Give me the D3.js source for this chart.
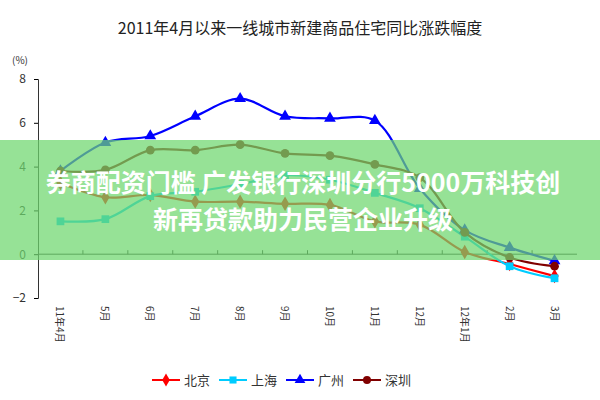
<!DOCTYPE html>
<html><head><meta charset="utf-8">
<script src="https://cdn.jsdelivr.net/npm/d3@7/dist/d3.min.js"></script>
<style>body{margin:0;background:#fff}text{font-family:"Noto Sans CJK SC","Liberation Sans",sans-serif}</style>
</head><body><div id="chart"></div>
<script>
// months and the four city series (%)
var months = ["11年4月","5月","6月","7月","8月","9月","10月","11月","12月","12年1月","2月","3月"];
var beijing   = [3.25, 2.6, 2.7, 2.4, 2.4, 2.3, 2.25, 1.5, 1.35, 0.1, -0.45, -1.0];
var shanghai  = [1.5, 1.6, 2.65, 2.85, 3.2, 3.6, 3.4, 2.8, 2.1, 0.8, -0.55, -1.1];
var guangzhou = [3.8, 5.1, 5.4, 6.3, 7.1, 6.3, 6.2, 6.1, 3.0, 1.1, 0.3, -0.3];
var shenzhen  = [3.8, 3.85, 4.75, 4.75, 5.0, 4.6, 4.5, 4.1, 3.5, 1.0, -0.15, -0.55];
var yTicks = [-2, 0, 2, 4, 6, 8];

var series = [
  {name: "北京", vals: beijing, color: "#ff0000", sym: d3.symbolDiamond},
  {name: "上海", vals: shanghai, color: "#00ccff", sym: d3.symbolSquare},
  {name: "广州", vals: guangzhou, color: "#0000ff", sym: d3.symbolTriangle},
  {name: "深圳", vals: shenzhen, color: "#800000", sym: d3.symbolCircle}
];

var svg = d3.select("#chart").append("svg").attr("width", 600).attr("height", 400);

svg.append("text").attr("x", 300).attr("y", 34).attr("text-anchor", "middle")
  .attr("font-size", 16).attr("fill", "#222").text("2011年4月以来一线城市新建商品住宅同比涨跌幅度");

var x = d3.scaleBand().domain(months).range([38, 577]);
var y = d3.scaleLinear().domain([-2, 8]).range([298, 79]);

// y axis
var ya = svg.append("g").attr("transform", "translate(38,0)")
  .call(d3.axisLeft(y).tickValues(yTicks).tickSize(4));
ya.select(".domain").attr("stroke", "#333");
ya.selectAll("text").attr("font-size", 12).attr("fill", "#333").attr("x", -12);
svg.append("text").attr("x", 12).attr("y", 64).attr("font-size", 10).attr("fill", "#333").text("(%)");

// x axis at zero, ticks between categories
var xg = svg.append("g").attr("transform", "translate(0," + y(0) + ")");
xg.append("line").attr("x1", 38).attr("x2", 577).attr("stroke", "#333");
xg.selectAll("line.t").data(months.slice(1)).enter().append("line")
  .attr("x1", d => x(d)).attr("x2", d => x(d)).attr("y1", 0).attr("y2", -4).attr("stroke", "#333");
svg.selectAll("text.xl").data(months).enter().append("text")
  .attr("font-size", 10).attr("fill", "#333")
  .attr("transform", d => "translate(" + (x(d) + x.bandwidth() / 2 - 4) + ",306) rotate(90)")
  .text(d => d);

var line = d3.line().x((d, i) => x(months[i]) + x.bandwidth() / 2).y(d => y(d)).curve(d3.curveCatmullRom);
series.forEach(function(s) {
  svg.append("path").attr("d", line(s.vals)).attr("fill", "none").attr("stroke", s.color).attr("stroke-width", 2.2);
  svg.selectAll(null).data(s.vals).enter().append("path")
    .attr("d", d3.symbol().type(s.sym).size(60))
    .attr("transform", (d, i) => "translate(" + (x(months[i]) + x.bandwidth() / 2) + "," + y(d) + ")")
    .attr("fill", s.color);
});

// legend
var lg = svg.append("g").attr("transform", "translate(152,380)");
series.forEach(function(s, i) {
  var g = lg.append("g").attr("transform", "translate(" + (i * 67) + ",0)");
  g.append("line").attr("x1", 0).attr("x2", 28).attr("stroke", s.color).attr("stroke-width", 2);
  g.append("path").attr("d", d3.symbol().type(s.sym).size(50)).attr("transform", "translate(14,0)").attr("fill", s.color);
  g.append("text").attr("x", 32).attr("y", 5).attr("font-size", 13).attr("fill", "#333").text(s.name);
});

// overlay banner
svg.append("rect").attr("x", 0).attr("y", 140).attr("width", 600).attr("height", 120)
  .attr("fill", "rgb(110,215,110)").attr("opacity", 0.72);
var banner = ["券商配资门槛 广发银行深圳分行5000万科技创", "新再贷款助力民营企业升级"];
svg.selectAll("text.bn").data(banner).enter().append("text")
  .attr("x", 303).attr("y", (d, i) => 192 + i * 37).attr("text-anchor", "middle")
  .attr("font-size", 25).attr("font-weight", "bold").attr("fill", "#fff").text(d => d);
</script></body></html>
